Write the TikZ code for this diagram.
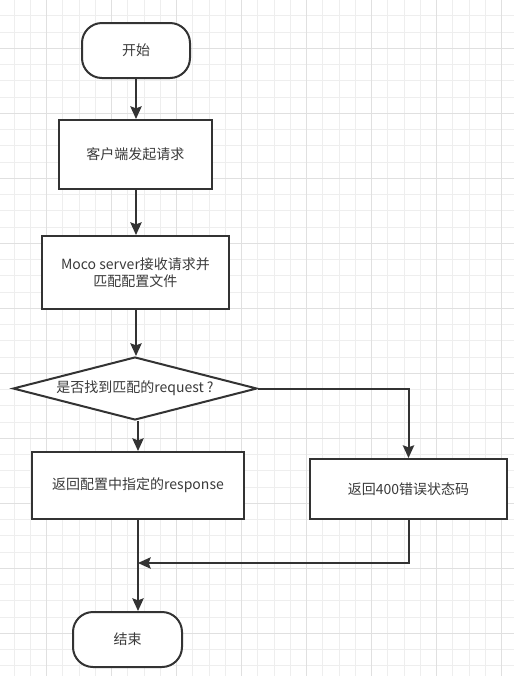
\documentclass[tikz,border=0pt]{standalone}
\usepackage{fontspec}
\setmainfont{Noto Sans CJK SC}
\usetikzlibrary{shapes.geometric,arrows.meta}
\definecolor{ink}{HTML}{333333}
\definecolor{txtc}{HTML}{3A3A3A}
\definecolor{gridminor}{HTML}{EEEEEE}
\definecolor{gridmajor}{HTML}{E0E0E0}
\tikzset{
  base/.style={draw=ink, line width=1.5pt, fill=white, text=txtc, font=\fontsize{10.5pt}{12.5pt}\selectfont, inner sep=0pt, align=center},
  term/.style={base, rectangle, rounded corners=15pt},
  proc/.style={base, rectangle},
  dec/.style={base, diamond},
  lbl/.style={text=txtc, font=\fontsize{10.5pt}{12.5pt}\selectfont, inner sep=0pt},
  flow/.style={draw=ink, line width=1.5pt, -{Stealth[length=9.5pt,width=8.5pt,inset=1.5pt]}},
  gminor/.style={draw=gridminor, line width=0.75pt},
  gmajor/.style={draw=gridmajor, line width=0.75pt}
}
\begin{document}
\begin{tikzpicture}[x=0.75pt,y=-0.75pt]
\useasboundingbox (0,0) rectangle (514,676);
\fill[white] (0,0) rectangle (514,676);
% grid
\foreach \i in {0,...,31} {\draw[gminor] ({14.2+16.25*\i},0) -- ({14.2+16.25*\i},676);}
\foreach \i in {0,...,41} {\draw[gminor] (0,{15.8+16.25*\i}) -- (514,{15.8+16.25*\i});}
\foreach \i in {0,...,7} {\draw[gmajor] ({46.7+65*\i},0) -- ({46.7+65*\i},676);}
\foreach \i in {0,...,9} {\draw[gmajor] (0,{48.3+65*\i}) -- (514,{48.3+65*\i});}
% nodes
\node[term, minimum width=81pt, minimum height=41.25pt] (start) at (136,50.5) {开始};
\node[proc, minimum width=114.75pt, minimum height=51.75pt] (b1) at (135.5,154.5) {客户端发起请求};
\node[proc, minimum width=140.25pt, minimum height=54.75pt] (b2) at (135.5,272.5) {Moco server接收请求并\\匹配配置文件};
\node[dec, minimum width=183pt, minimum height=47.25pt] (d) at (135,388.5) {};
\node[lbl] (dq) at (d.center) {是否找到匹配的request ?};
\node[proc, minimum width=159pt, minimum height=50.25pt] (r1) at (138,485.5) {返回配置中指定的response};
\node[proc, minimum width=147.75pt, minimum height=45pt] (r2) at (408.5,489) {返回400错误状态码};
\node[term, minimum width=81.75pt, minimum height=41.25pt] (e) at (127.5,639.5) {结束};
\coordinate (join) at (138,563);
% connectors
\draw[flow] (start.south -| 136,0) -- (b1.north -| 136,0);
\draw[flow] (b1.south -| 136,0) -- (b2.north -| 136,0);
\draw[flow] (b2.south -| 136,0) -- (d.north -| 136,0);
\draw[flow] (r1.north |- d.south) -- (r1.north);
\draw[flow] (d.east) -- (r2.north |- d.east) -- (r2.north);
\draw[flow] (r1.south) -- (r1.south |- e.north);
\draw[flow] (r2.south) -- (r2.south |- join) -- (join);
\end{tikzpicture}
\end{document}
